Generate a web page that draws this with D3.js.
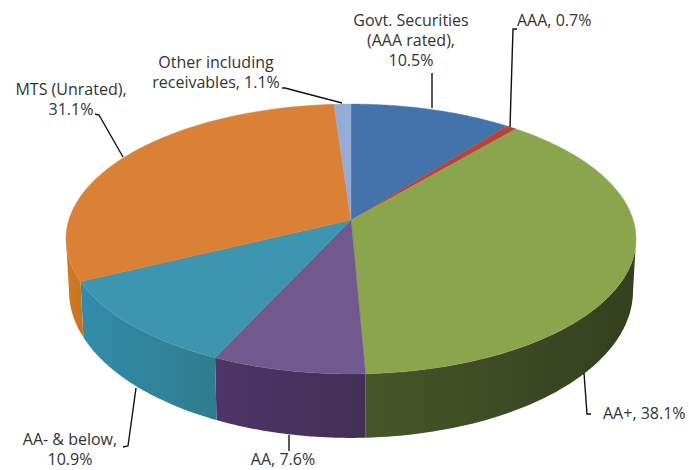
<!DOCTYPE html>
<html>
<head>
<meta charset="utf-8">
<script src="https://cdn.jsdelivr.net/npm/d3@7/dist/d3.min.js"></script>
<style>
  html, body { margin: 0; padding: 0; background: #fff; }
  svg { display: block; }
  text { font-family: "Open Sans", "Liberation Sans", sans-serif; font-size: 16px; fill: #333; }
</style>
</head>
<body>
<svg id="chart" width="689" height="470"></svg>
<script>
// Portfolio allocation by credit rating, clockwise from twelve o'clock.
const categories = ["Govt. Securities (AAA rated)", "AAA", "AA+", "AA", "AA- & below", "MTS (Unrated)", "Other including receivables"];
const shares = [10.5, 0.7, 38.1, 7.6, 10.9, 31.1, 1.1];
const topColors = ["#4273aa", "#b5443f", "#8aa54c", "#71588f", "#3e95b0", "#da8136", "#94acd6"];
const wallColorsLeft = ["#2b4c70", "#77302c", "#46562a", "#4e3566", "#338cab", "#cf7a26", "#5d7094"];
const wallColorsRight = ["#2b4c70", "#77302c", "#353f1f", "#432f55", "#2e7d8e", "#c9751f", "#5d7094"];

// Labels and their leader lines
const labels = [
  { lines: ["Govt. Securities", "(AAA rated),", "10.5%"], x: 411, y: 26, dy: 20, anchor: "middle", leader: [[432, 73], [432, 108]] },
  { lines: ["AAA, 0.7%"], x: 517, y: 26, dy: 20, anchor: "start", leader: [[517, 29], [513, 29], [510, 127]] },
  { lines: ["Other including", "receivables, 1.1%"], x: 216, y: 68, dy: 20, anchor: "middle", leader: [[282, 88], [285, 88], [342, 103]] },
  { lines: ["MTS (Unrated),", "31.1%"], x: 71, y: 95, dy: 20, anchor: "middle", leader: [[95, 114], [99, 115], [123, 157]] },
  { lines: ["AA- & below,", "10.9%"], x: 70, y: 445, dy: 20, anchor: "middle", leader: [[123, 447], [128, 446], [136, 388]] },
  { lines: ["AA, 7.6%"], x: 283, y: 465, dy: 20, anchor: "middle", leader: [[289, 435], [289, 451]] },
  { lines: ["AA+, 38.1%"], x: 603, y: 419, dy: 20, anchor: "start", leader: [[584, 373], [587, 414], [591, 414]] }
];

const svg = d3.select("#chart");
const defs = svg.append("defs");

// Perspective disc: maps a pie angle onto the tilted ellipse.
const tilt = 0.1408;
function disc(cx, cy, a, b) {
  return angle => {
    const u = Math.sin(angle), v = -Math.cos(angle), w = 1 - tilt * v;
    return [cx + a * u / w, cy + b * v / w];
  };
}
const topRim = disc(351, 220, 282.2, 132.3);
const baseRim = disc(351, 270.3, 279.2, 144);

const pie = d3.pie().sort(null).value(d => d)(shares);
const arcSamples = (a0, a1) => d3.range(0, 61).map(i => a0 + (a1 - a0) * i / 60);
const line = d3.line();

// The visible part of the outer wall lies between the two silhouette angles.
const wallStart = Math.PI - Math.acos(tilt);
const wallEnd = Math.PI + Math.acos(tilt);

pie.forEach((s, i) => {
  const a0 = Math.max(s.startAngle, wallStart), a1 = Math.min(s.endAngle, wallEnd);
  if (a1 <= a0) return;
  const ts = arcSamples(a0, a1);
  const pts = ts.map(topRim).concat(ts.slice().reverse().map(baseRim));
  const xs = d3.extent(pts, p => p[0]);
  const grad = defs.append("linearGradient").attr("id", "wall" + i)
    .attr("gradientUnits", "userSpaceOnUse")
    .attr("x1", xs[0]).attr("x2", xs[1]).attr("y1", 0).attr("y2", 0);
  grad.append("stop").attr("offset", 0).attr("stop-color", wallColorsLeft[i]);
  grad.append("stop").attr("offset", 1).attr("stop-color", wallColorsRight[i]);
  svg.append("path").attr("d", line(pts) + "Z").attr("fill", `url(#wall${i})`);
});

pie.forEach((s, i) => {
  const pts = [[351, 220]].concat(arcSamples(s.startAngle, s.endAngle).map(topRim));
  svg.append("path").attr("d", line(pts) + "Z").attr("fill", topColors[i]).attr("stroke", topColors[i]).attr("stroke-width", 0.4);
});

labels.forEach(l => {
  svg.append("path").attr("d", line(l.leader)).attr("fill", "none").attr("stroke", "#111").attr("stroke-width", 1.4);
  const t = svg.append("text").attr("text-anchor", l.anchor);
  l.lines.forEach((txt, j) => t.append("tspan").attr("x", l.x).attr("y", l.y + j * l.dy).text(txt));
});
</script>
</body>
</html>
